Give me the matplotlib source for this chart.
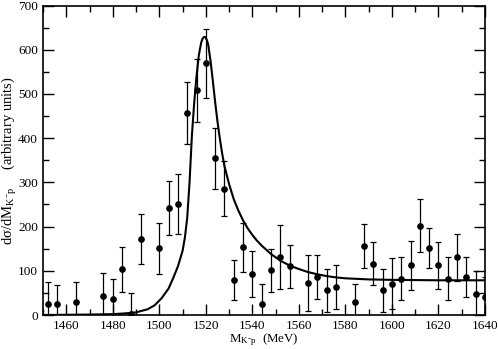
import matplotlib
matplotlib.use("Agg")
import matplotlib.pyplot as plt
from matplotlib.ticker import MultipleLocator

plt.rcParams['font.family'] = ['Liberation Serif', 'DejaVu Serif']
plt.rcParams['mathtext.fontset'] = 'custom'
plt.rcParams['mathtext.rm'] = 'Liberation Serif'
plt.rcParams['mathtext.it'] = 'Liberation Serif'

# data points
mass = [1452, 1456, 1464, 1476, 1480, 1484, 1488, 1492, 1500, 1504, 1508,
        1512, 1516, 1520, 1524, 1528, 1532, 1536, 1540, 1544, 1548, 1552,
        1556, 1564, 1568, 1572, 1576, 1584, 1588, 1592, 1596, 1600, 1604,
        1608, 1612, 1616, 1620, 1624, 1628, 1632, 1636, 1640]
xsec = [25, 24, 29, 44, 37, 103, 3, 172, 151, 242, 251,
        457, 508, 569, 354, 286, 80, 153, 93, 25, 101, 131,
        110, 72, 86, 56, 63, 29, 156, 116, 56, 71, 82,
        112, 202, 152, 112, 82, 131, 86, 47, 41]
err = [49, 43, 45, 50, 45, 50, 46, 57, 58, 60, 68,
       71, 72, 79, 68, 63, 45, 56, 52, 45, 49, 72,
       49, 63, 49, 49, 49, 41, 49, 49, 49, 57, 49,
       56, 60, 45, 53, 49, 53, 45, 52, 45]

# theory curve
curve_m = [1450, 1460, 1470, 1480, 1485, 1490, 1495, 1498, 1501, 1504, 1506,
           1508, 1510, 1511, 1512, 1513, 1514, 1515, 1516, 1517, 1518, 1518.5,
           1519, 1519.5, 1520, 1520.5, 1521, 1522, 1523, 1524, 1525, 1526, 1527,
           1528, 1530, 1532, 1534, 1536, 1538, 1540, 1542, 1544, 1548, 1552,
           1556, 1560, 1564, 1568, 1572, 1576, 1580, 1590, 1600, 1620, 1640]
curve_v = [0, 0.5, 1, 2, 3.5, 6, 13, 22, 38, 60, 84,
           110, 145, 175, 220, 300, 405, 480, 540, 588, 616, 624,
           628, 629, 627, 621, 612, 576, 530, 482, 438, 400, 366,
           337, 296, 262, 236, 214, 196, 181, 168, 157, 138, 123,
           112, 104, 97, 92, 88, 85, 83, 80.5, 79.5, 78.5, 78.5]

fig = plt.figure(figsize=(4.98, 3.49), dpi=100)
ax = fig.add_axes([0.0863, 0.0974, 0.8876, 0.8868])

ax.plot(curve_m, curve_v, color='black', lw=1.5, zorder=3)
ax.errorbar(mass, xsec, yerr=err, fmt='o', color='black', ms=3.8,
            elinewidth=0.9, capsize=2.3, capthick=0.9, zorder=4, clip_on=True)

ax.set_xlim(1450, 1640)
ax.set_ylim(0, 700)
ax.xaxis.set_major_locator(MultipleLocator(20))
ax.xaxis.set_minor_locator(MultipleLocator(10))
ax.yaxis.set_major_locator(MultipleLocator(100))
ax.yaxis.set_minor_locator(MultipleLocator(50))
ax.tick_params(which='both', direction='in', top=True, right=True, labelsize=9.5)
ax.tick_params(which='major', length=8, width=1)
ax.tick_params(which='minor', length=4, width=1)
for s in ax.spines.values():
    s.set_linewidth(1.2)

ax.set_xlabel(r'M$_{\mathrm{K^{-}p}}$  (MeV)', fontsize=9.3)
ax.xaxis.set_label_coords(0.5, -0.053)
ax.set_ylabel(r'd$\sigma$/dM$_{\mathrm{K^{-}p}}$     (arbitrary units)', fontsize=10.5)
ax.yaxis.set_label_coords(-0.054, 0.5)

fig.savefig('out.png', dpi=100)
